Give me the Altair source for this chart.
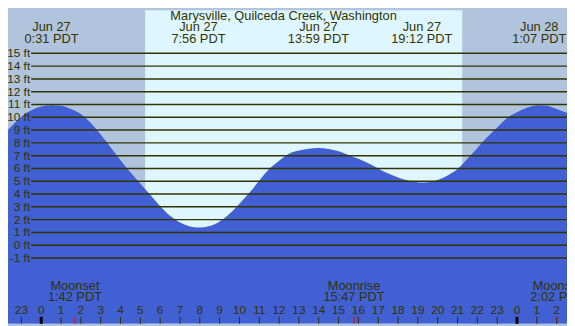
import altair as alt
import pandas as pd

# ---- data ----
title = "Marysville, Quilceda Creek, Washington"

tide_hours = [-2.1, -2.0, -1.5, -1.0, -0.5, 0.0, 0.52, 1.0, 1.5, 2.0, 2.5, 3.0, 3.5, 4.0, 4.5,
              5.0, 5.5, 6.0, 6.5, 7.0, 7.5, 7.93, 8.5, 9.0, 9.5, 10.0, 10.5, 11.0, 11.5, 12.0,
              12.5, 13.0, 13.5, 13.98, 14.5, 15.0, 15.5, 16.0, 16.5, 17.0, 17.5, 18.0, 18.5,
              19.0, 19.2, 19.5, 20.0, 20.5, 21.0, 21.5, 22.0, 22.5, 23.0, 23.5, 24.0, 24.5,
              25.12, 25.5, 26.0, 26.6]
tide_ft = [8.25, 8.45, 9.3, 10.05, 10.55, 10.85, 10.95, 10.9, 10.65, 10.25, 9.55, 8.65, 7.65, 6.65, 5.7,
           4.8, 3.95, 3.05, 2.3, 1.78, 1.47, 1.38, 1.5, 1.85, 2.45, 3.25, 4.1, 5.05, 5.95, 6.6,
           7.15, 7.4, 7.55, 7.6, 7.52, 7.35, 7.05, 6.75, 6.4, 6.0, 5.6, 5.3, 5.05,
           4.92, 4.9, 4.92, 5.1, 5.45, 5.95, 6.75, 7.6, 8.45, 9.2, 9.95, 10.4, 10.75,
           10.95, 10.9, 10.65, 10.3]

extreme_hours = [0.52, 7.93, 13.98, 19.2, 25.12]
extreme_dates = ["Jun 27", "Jun 27", "Jun 27", "Jun 27", "Jun 28"]
extreme_times = ["0:31 PDT", "7:56 PDT", "13:59 PDT", "19:12 PDT", "1:07 PDT"]

moon_hours = [1.70, 15.78, 26.03]
moon_names = ["Moonset", "Moonrise", "Moonset"]
moon_times = ["1:42 PDT", "15:47 PDT", "2:02 PDT"]

sunrise, sunset = 5.24, 21.25

levels = list(range(-1, 16))
hour_ticks = list(range(-2, 27))
midnights = [0, 24]

# ---- scales / layout (page has an 8px margin) ----
W, H = 567, 318
X0, X1 = -1.676, 26.522
Y0, Y1 = -6.14, 18.368
xs = alt.Scale(domain=[X0, X1], nice=False, zero=False)
ys = alt.Scale(domain=[Y0, Y1], nice=False, zero=False)

TXT = "#333300"
FONT = "Liberation Sans"
BLUE = "#4160D4"

bg_df = pd.DataFrame({"start": [X0, sunrise, sunset], "end": [sunrise, sunset, X1],
                      "kind": ["night", "day", "night"]})
tide_df = pd.DataFrame({"h": tide_hours, "v": tide_ft})
lvl_df = pd.DataFrame({"lvl": levels, "label": [f"{l} ft" for l in levels]})
ext_df = pd.DataFrame({"t": extreme_hours, "d": extreme_dates, "tm": extreme_times})
moon_df = pd.DataFrame({"t": moon_hours, "n": moon_names, "tm": moon_times})
hr_df = pd.DataFrame({"h": hour_ticks, "lab": [str(h % 24) for h in hour_ticks]})
mid_df = pd.DataFrame({"h": midnights})
title_df = pd.DataFrame({"t": [title]})

bg = alt.Chart(bg_df).mark_rect().encode(
    x=alt.X("start:Q", scale=xs, axis=None), x2="end:Q",
    y=alt.value(0), y2=alt.value(H),
    color=alt.Color("kind:N", scale=alt.Scale(domain=["night", "day"], range=["#B0C4DE", "#DDF6FF"]), legend=None),
)

area = alt.Chart(tide_df).mark_area(color=BLUE, interpolate="monotone", clip=True).encode(
    x=alt.X("h:Q", scale=xs, axis=None),
    y=alt.Y("v:Q", scale=ys, axis=None),
    y2=alt.datum(Y0),
)

grid = alt.Chart(lvl_df).mark_rule(color=TXT, strokeWidth=1.5).encode(
    y=alt.Y("lvl:Q", scale=ys, axis=None), x=alt.value(23.5), x2=alt.value(W),
)

ylab = alt.Chart(lvl_df).mark_text(align="right", baseline="middle", font=FONT, fontSize=12, color=TXT).encode(
    y=alt.Y("lvl:Q", scale=ys, axis=None), x=alt.value(22.5), text="label:N",
)

ttl = alt.Chart(title_df).mark_text(align="center", baseline="alphabetic", font=FONT, fontSize=13, color=TXT).encode(
    x=alt.value(279.5), y=alt.value(9.8), text="t:N",
)

ext1 = alt.Chart(ext_df).mark_text(align="center", baseline="alphabetic", font=FONT, fontSize=13, color=TXT).encode(
    x=alt.X("t:Q", scale=xs, axis=None), y=alt.value(21.3), text="d:N",
)
ext2 = alt.Chart(ext_df).mark_text(align="center", baseline="alphabetic", font=FONT, fontSize=13, color=TXT).encode(
    x=alt.X("t:Q", scale=xs, axis=None), y=alt.value(33), text="tm:N",
)

hticks = alt.Chart(hr_df).mark_rule(color=TXT, strokeWidth=1).encode(
    x=alt.X("h:Q", scale=xs, axis=None), y=alt.value(311), y2=alt.value(H),
)
mticks = alt.Chart(mid_df).mark_rule(color="#000000", strokeWidth=3).encode(
    x=alt.X("h:Q", scale=xs, axis=None), y=alt.value(311), y2=alt.value(H),
)
hlab = alt.Chart(hr_df).mark_text(align="center", baseline="alphabetic", font=FONT, fontSize=12, color=TXT).encode(
    x=alt.X("h:Q", scale=xs, axis=None), y=alt.value(308), text="lab:N",
)

moontick = alt.Chart(moon_df).mark_rule(color="#FF0000", strokeWidth=1).encode(
    x=alt.X("t:Q", scale=xs, axis=None), y=alt.value(311), y2=alt.value(H),
)
moon1 = alt.Chart(moon_df).mark_text(align="center", baseline="alphabetic", font=FONT, fontSize=13, color=TXT).encode(
    x=alt.X("t:Q", scale=xs, axis=None), y=alt.value(284), text="n:N",
)
moon2 = alt.Chart(moon_df).mark_text(align="center", baseline="alphabetic", font=FONT, fontSize=13, color=TXT).encode(
    x=alt.X("t:Q", scale=xs, axis=None), y=alt.value(295), text="tm:N",
)

chart = alt.layer(
    bg, area, grid, ylab, ttl, ext1, ext2, hticks, mticks, moontick, hlab, moon1, moon2
).properties(
    width=W, height=H, padding=0, autosize=alt.AutoSizeParams(type="none"),
    background="#B0C4DE",
).configure_view(stroke=None)

chart.save("out.html", embed_options={"renderer": "svg", "actions": False})
